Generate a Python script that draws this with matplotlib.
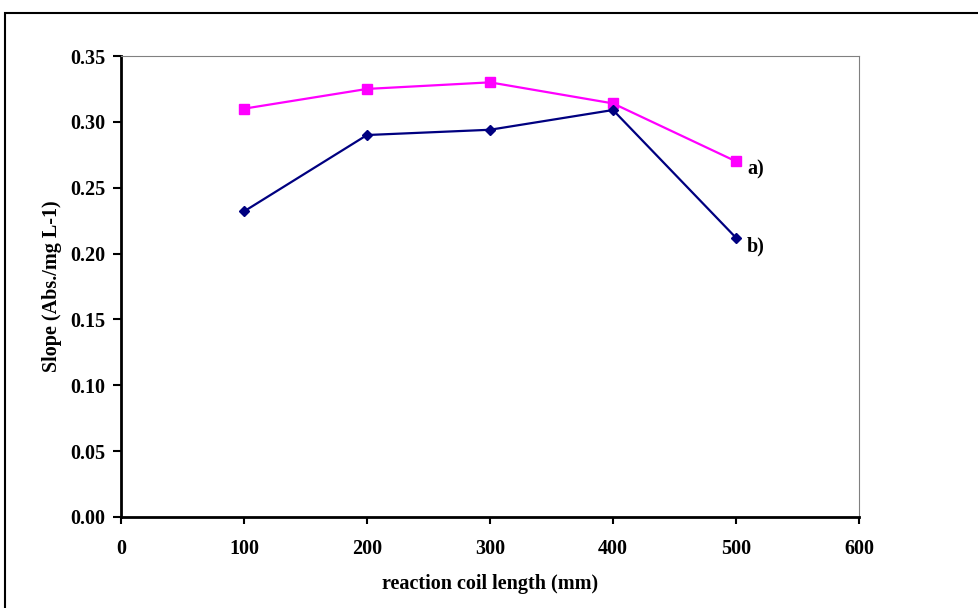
import matplotlib.pyplot as plt
from matplotlib.patches import Rectangle

plt.rcParams['font.family'] = ['Liberation Serif', 'DejaVu Serif']
plt.rcParams['font.weight'] = 'bold'

coil_length = [100, 200, 300, 400, 500]
slope_a = [0.310, 0.325, 0.330, 0.314, 0.270]
slope_b = [0.232, 0.290, 0.294, 0.309, 0.212]
x_ticks = [0, 100, 200, 300, 400, 500, 600]
y_ticks = [0.00, 0.05, 0.10, 0.15, 0.20, 0.25, 0.30, 0.35]

fig = plt.figure(figsize=(9.79, 6.08), dpi=100)
ax = fig.add_axes([121/979, 1-517/608, 738/979, 461/608])

# outer frame (only left and top edges visible)
fig.patches.append(Rectangle((5/979, -0.1), 1.2, 1.1 - 13/608,
                             transform=fig.transFigure, fill=False,
                             edgecolor='black', linewidth=1.5, zorder=0))

ax.plot(coil_length, slope_a, color='#FF00FF', marker='s', markersize=7,
        linewidth=1.6)
ax.plot(coil_length, slope_b, color='#000080', marker='D', markersize=5,
        linewidth=1.6)

ax.annotate('a)', (500, slope_a[-1]), xytext=(8, -6), textcoords='offset points',
            fontsize=14.5, fontweight='bold', va='center')
ax.annotate('b)', (500, slope_b[-1]), xytext=(8, -6.5), textcoords='offset points',
            fontsize=14.5, fontweight='bold', va='center')

ax.set_xlim(0, 600)
ax.set_ylim(0, 0.35)
ax.set_xticks(x_ticks)
ax.set_yticks(y_ticks)
ax.set_yticklabels(['%.2f' % v for v in y_ticks])
ax.tick_params(labelsize=14.5, direction='out', length=6, width=1.5, pad=5)
ax.tick_params(axis='x', length=5, pad=11)

for side in ['left', 'bottom']:
    ax.spines[side].set_linewidth(2)
    ax.spines[side].set_color('black')
for side in ['top', 'right']:
    ax.spines[side].set_linewidth(0.8)
    ax.spines[side].set_color('#808080')

ax.set_xlabel('reaction coil length (mm)', fontsize=14.5, fontweight='bold', labelpad=11)
ax.set_ylabel('Slope (Abs./mg L-1)', fontsize=14.5, fontweight='bold', labelpad=6)

fig.savefig('out.png')
